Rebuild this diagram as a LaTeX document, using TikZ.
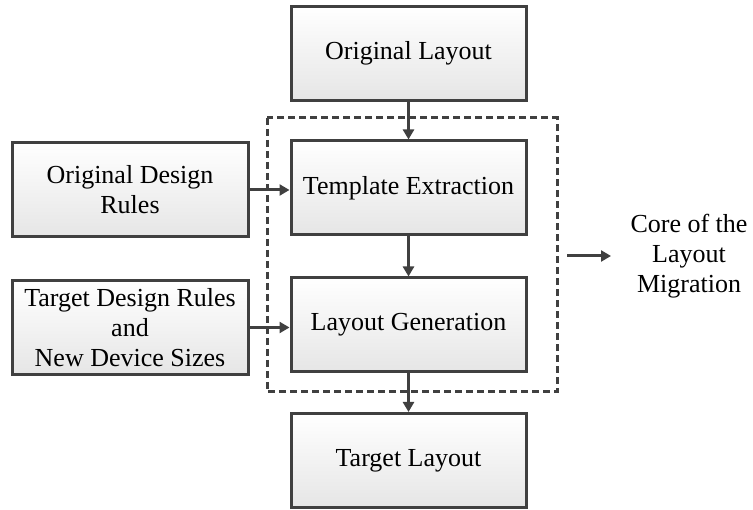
\documentclass[tikz,border=0pt]{standalone}
\usepackage{fontspec}
\setmainfont{Liberation Serif}
\usetikzlibrary{arrows.meta}
\definecolor{edge}{HTML}{404040}
\tikzset{
  box/.style={draw=edge, line width=3pt, top color=white, bottom color=black!10,
    minimum width=235pt, minimum height=94pt, align=center, font=\fontsize{26}{30}\selectfont,
    inner sep=2pt},
  conn/.style={draw=edge, line width=3pt, -{Triangle[length=10pt,width=11pt]}},
  dashbox/.style={draw=edge, line width=3pt, dash pattern=on 7pt off 4pt},
}
\begin{document}
\begin{tikzpicture}[x=1pt,y=-1pt]
\useasboundingbox (0,0) rectangle (753,510);
\draw[dashbox] (267,118) rectangle (557,392);
\node[box] (ol) at (408.5,53.5) {Original Layout};
\node[box] (te) at (408.5,188) {Template Extraction};
\node[box] (lg) at (408.5,325) {Layout Generation};
\node[box] (tl) at (408.5,460.5) {Target Layout};
\node[box, minimum width=236pt] (odr) at (130,190) {Original Design\\Rules};
\node[box, minimum width=236pt] (tdr) at (130,327.5) {Target Design Rules\\and\\New Device Sizes};
\draw[conn] (ol) -- (te);
\draw[conn] (te) -- (lg);
\draw[conn] (lg) -- (tl);
\draw[conn] (odr.east) -- (odr.east -| te.west);
\draw[conn] (tdr.east) -- (tdr.east -| lg.west);
\node[align=center, font=\fontsize{26}{30}\selectfont] (core) at (689,256) {Core of the\\Layout\\Migration};
\coordinate (cs) at (567,256);
\coordinate (ce) at (611,256);
\draw[conn] (cs) -- (ce);
\end{tikzpicture}
\end{document}
